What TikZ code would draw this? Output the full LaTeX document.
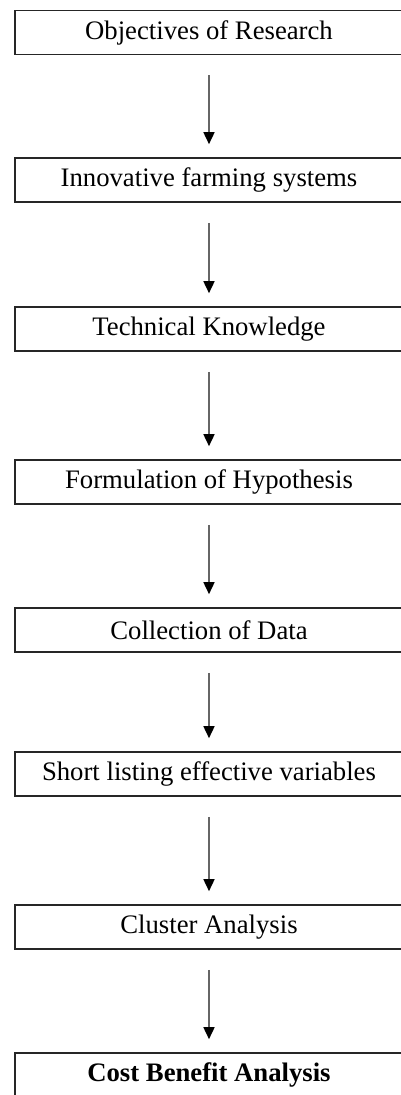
\documentclass[tikz,border=0pt]{standalone}
\usepackage{fontspec}
\setmainfont{Liberation Serif}
\usepackage{tikz}
\usetikzlibrary{arrows.meta,positioning}
\tikzstyle{stage}=[draw=black!85, line width=1.6pt, rectangle, minimum width=388pt, minimum height=44pt, inner sep=0pt, font=\fontsize{26.7}{32}\selectfont]
\tikzstyle{flow}=[draw=black!60, line width=1.6pt, -{Triangle[black, length=12pt, width=11pt]}, shorten <=20pt, shorten >=13pt]

\begin{document}
\begin{tikzpicture}[x=1pt, y=1pt]
    \useasboundingbox (0,0) rectangle (401,1095);
    % Stages of the study, top to bottom
    \node[stage] (obj) at (209,1062.5) {Objectives of Research};
    \node[stage] (inn) at (209,915) {Innovative farming systems};
    \node[stage] (tek) at (209,766) {Technical Knowledge};
    \node[stage] (hyp) at (209,613) {Formulation of Hypothesis};
    \node[stage] (dat) at (209,465) {Collection of Data};
    \node[stage] (var) at (209,321) {Short listing effective variables};
    \node[stage] (clu) at (209,168) {Cluster Analysis};
    \node[stage] (cba) at (209,20) {\textbf{Cost Benefit Analysis}};

     \path[flow] (obj) edge (inn);
     \path[flow] (inn) edge (tek);
     \path[flow] (tek) edge (hyp);
     \path[flow] (hyp) edge (dat);
     \path[flow] (dat) edge (var);
     \path[flow] (var) edge (clu);
     \path[flow] (clu) edge (cba);

\end{tikzpicture}
\end{document}
